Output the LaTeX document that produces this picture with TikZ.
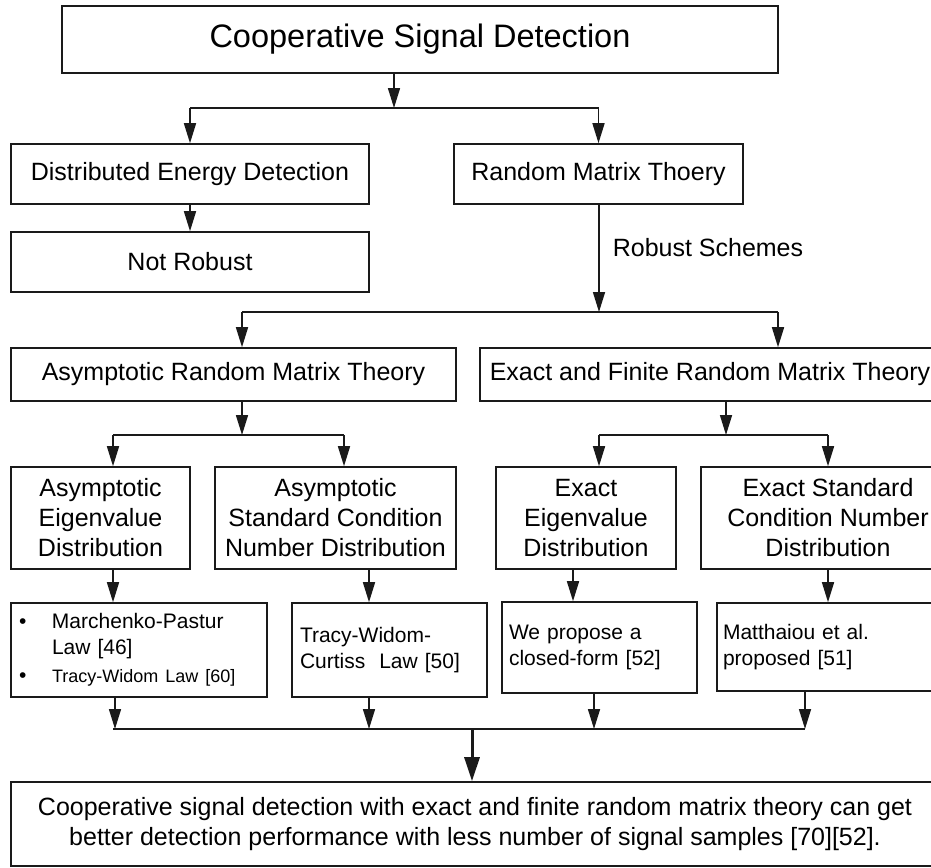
\documentclass[tikz,border=0pt]{standalone}
\usepackage{fontspec}
\setmainfont{Liberation Sans}
\usepackage{tikz}
\usetikzlibrary{arrows.meta, positioning, calc}
\definecolor{trait}{HTML}{1A1A1A}
\tikzset{
  bloc/.style={rectangle, draw=trait, line width=1.6pt, text=black,
    font=\fontsize{25}{30}\selectfont, align=center, inner sep=0pt},
  titre/.style={bloc, font=\fontsize{32.5}{36}\selectfont},
  feuille/.style={rectangle, draw=trait, line width=1.6pt, text=black,
    font=\fontsize{21}{26}\selectfont, align=left, inner ysep=0pt},
  fleche/.style={-{Triangle[length=20pt, width=12pt]}, line width=1.6pt, color=trait},
  grossefleche/.style={-{Triangle[length=24pt, width=15pt]}, line width=3pt, color=trait},
  lien/.style={line width=1.6pt, color=trait},
  etiquette/.style={font=\fontsize{25}{30}\selectfont, inner sep=0pt, text=black}
}

\begin{document}
\begin{tikzpicture}[x=1pt, y=-1pt]
    \useasboundingbox (0,0) rectangle (931,867);
    \clip (0,0) rectangle (931,867);

    % niveau 1 et 2
    \node[titre, minimum width=716pt, minimum height=67pt] (csd) at (420,39.5) {Cooperative Signal Detection};
    \node[bloc, minimum width=358pt, minimum height=60pt] (ded) at (190,174) {Distributed Energy Detection};
    \node[bloc, minimum width=289pt, minimum height=60pt] (rmt) at (598.5,174) {Random Matrix Thoery};
    \node[bloc, minimum width=358pt, minimum height=60pt] (nr) at (190,262) {Not Robust};

    % niveau 3
    \node[bloc, minimum width=445pt, minimum height=53pt] (armt) at (233.5,374.5) {Asymptotic Random Matrix Theory};
    \node[bloc, minimum width=460pt, minimum height=53pt] (efrmt) at (710,374.5) {Exact and Finite Random Matrix Theory};

    % niveau 4
    \node[bloc, minimum width=179pt, minimum height=102pt] (aed) at (100.5,518) {Asymptotic\\ Eigenvalue\\ Distribution};
    \node[bloc, minimum width=241pt, minimum height=102pt] (ascnd) at (335.5,518) {Asymptotic\\ Standard Condition\\ Number Distribution};
    \node[bloc, minimum width=180pt, minimum height=102pt] (eed) at (586,518) {Exact\\ Eigenvalue\\ Distribution};
    \node[bloc, minimum width=254pt, minimum height=102pt] (escnd) at (828,518) {Exact Standard\\ Condition Number\\ Distribution};

    % niveau 5
    \node[feuille, text width=240pt, inner xsep=8pt, minimum height=94pt] (ml) at (139,650)
      {\begin{tabular}{@{}p{33pt}@{}l@{}}
        \textbullet & Marchenko-Pastur\\
                    & Law [46]\\[2pt]
        \textbullet & {\fontsize{18}{20}\selectfont Tracy-Widom Law [60]}
       \end{tabular}};
    \node[feuille, text width=179pt, inner xsep=8pt, minimum height=94pt] (twc) at (389.5,650) {Tracy-Widom-\\ Curtiss\ \ Law [50]};
    \node[feuille, text width=181pt, inner xsep=7pt, minimum height=91pt] (wp) at (599.5,647.5) {We propose a\\ closed-form [52]};
    \node[feuille, text width=210pt, inner xsep=6pt, minimum height=88pt] (mp) at (828,647) {Matthaiou et al.\\ proposed [51]};

    % conclusion
    \node[bloc, minimum width=928pt, minimum height=84pt] (concl) at (475,824)
      {Cooperative signal detection with exact and finite random matrix theory can get\\
       better detection performance with less number of signal samples [70][52].};

    % points de jonction
    \coordinate (j1) at (394,108);
    \coordinate (j2) at (599,312);
    \coordinate (g2) at (778,312);
    \coordinate (j3) at (242,435);
    \coordinate (j4) at (726,435);
    \coordinate (d1) at (113,435);
    \coordinate (d2) at (344,435);
    \coordinate (d3) at (599,435);
    \coordinate (d4) at (828,435);
    \coordinate (e2) at (369,569);
    \coordinate (e3) at (573,569);
    \coordinate (f1) at (115,729);
    \coordinate (f2) at (369,729);
    \coordinate (f3) at (594,729);
    \coordinate (f4) at (805,729);
    \coordinate (j5) at (472,729);

    \draw[fleche] (csd.south -| j1) -- (j1);
    \draw[lien] (ded.north |- j1) -- (rmt.north |- j1);
    \draw[fleche] (ded.north |- j1) -- (ded.north);
    \draw[fleche] (rmt.north |- j1) -- (rmt.north);
    \draw[fleche] (ded.south) -- (nr.north);

    \draw[fleche] (rmt.south -| j2) -- node[etiquette, right, pos=0.4, xshift=13pt]{Robust Schemes} (j2);
    \draw[lien] (j2 -| j3) -- (g2);
    \draw[fleche] (j2 -| j3) -- (armt.north -| j3);
    \draw[fleche] (g2) -- (efrmt.north -| g2);

    \draw[fleche] (armt.south -| j3) -- (j3);
    \draw[lien] (d1) -- (d2);
    \draw[fleche] (d1) -- (aed.north -| d1);
    \draw[fleche] (d2) -- (ascnd.north -| d2);
    \draw[fleche] (efrmt.south -| j4) -- (j4);
    \draw[lien] (d3) -- (d4);
    \draw[fleche] (d3) -- (eed.north -| d3);
    \draw[fleche] (d4) -- (escnd.north -| d4);

    \draw[fleche] (aed.south -| d1) -- (ml.north -| d1);
    \draw[fleche] (ascnd.south -| e2) -- (twc.north -| e2);
    \draw[fleche] (eed.south -| e3) -- (wp.north -| e3);
    \draw[fleche] (escnd.south) -- (mp.north);

    \draw[fleche] (ml.south -| f1) -- (f1);
    \draw[fleche] (twc.south -| f2) -- (f2);
    \draw[fleche] (wp.south -| f3) -- (f3);
    \draw[fleche] (mp.south -| f4) -- (f4);
    \draw[lien] (d1 |- f1) -- (f4);
    \draw[grossefleche] (j5) -- (concl.north -| j5);
  \end{tikzpicture}
\end{document}
